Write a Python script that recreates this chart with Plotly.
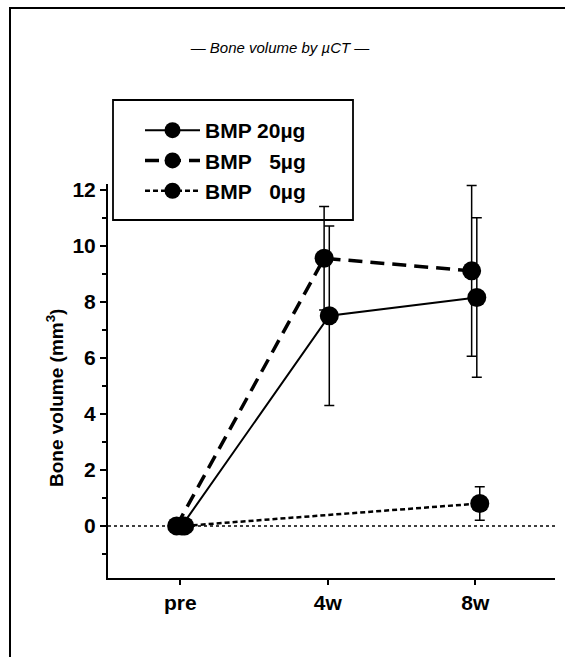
import plotly.graph_objects as go

# ---- data ----
timepoints = ["pre", "4w", "8w"]
time_index = [0, 1, 2]

bmp20_mean = [0.0, 7.5, 8.15]
bmp20_sd = [0.0, 3.2, 2.85]

bmp5_mean = [0.0, 9.55, 9.1]
bmp5_sd = [0.0, 1.85, 3.05]

bmp0_mean = [0.0, None, 0.8]
bmp0_sd = [0.0, None, 0.6]

series_names = ["BMP 20µg", "BMP\u00a0\u00a0\u00a05µg", "BMP\u00a0\u00a0\u00a00µg"]
y_tickvals = [0, 2, 4, 6, 8, 10, 12]
y_title = "Bone volume (mm<sup>3</sup>)"
chart_title = "<i>— Bone volume by µCT —</i>"

# ---- style ----
FONT = "Liberation Sans, Arial, Helvetica, sans-serif"
dodge = [0.01, -0.025, 0.03]          # small horizontal dodge per series
dashes = ["solid", "14px,8px", "5px,3px"]
widths = [2, 3.5, 2.5]

means = [bmp20_mean, bmp5_mean, bmp0_mean]
sds = [bmp20_sd, bmp5_sd, bmp0_sd]

fig = go.Figure()
for name, m, s, dx, dsh, w in zip(series_names, means, sds, dodge, dashes, widths):
    fig.add_trace(go.Scatter(
        x=[t + dx for t in time_index],
        y=m,
        name=name,
        mode="lines+markers",
        connectgaps=True,
        cliponaxis=False,
        line=dict(color="black", width=w, dash=dsh),
        marker=dict(color="black", size=19),
        error_y=dict(type="data", array=s, visible=True, color="black",
                     thickness=1.5, width=5),
    ))

# plot-area geometry helpers (pixels -> paper)
L, R, T, B = 108, 10, 184, 79
W, H = 565, 657
pw, ph = W - L - R, H - T - B
def px_x(p):
    return (p - L) / pw
def px_y(p):
    return (H - B - p) / ph

shapes = [
    # dotted zero reference line
    dict(type="line", xref="paper", x0=0, x1=1, yref="y", y0=0, y1=0,
         line=dict(color="black", width=1.5, dash="dot"), layer="below"),
    # legend box
    dict(type="rect", xref="paper", yref="paper",
         x0=px_x(113), x1=px_x(353), y0=px_y(220), y1=px_y(100),
         line=dict(color="black", width=1.8)),
    # outer frame (left + top edges)
    dict(type="path", xref="paper", yref="paper",
         path=f"M {px_x(10)},{px_y(660)} L {px_x(10)},{px_y(8)} L {px_x(570)},{px_y(8)}",
         line=dict(color="black", width=2)),
]

fig.update_layout(
    width=W, height=H,
    margin=dict(l=L, r=R, t=T, b=B),
    paper_bgcolor="white", plot_bgcolor="white",
    font=dict(family=FONT, color="black", size=20),
    title=dict(text=chart_title, x=280 / W, xref="container",
               y=1 - 48 / H, yref="container", xanchor="center", yanchor="middle",
               font=dict(size=15, family=FONT, color="black")),
    showlegend=True,
    legend=dict(x=px_x(140), xanchor="left", y=px_y(110), yanchor="top",
                bgcolor="rgba(0,0,0,0)", borderwidth=0, itemwidth=55,
                font=dict(size=21, family=FONT, color="black", weight="bold"),
                tracegroupgap=0),
    shapes=shapes,
    annotations=[dict(text=y_title, textangle=-90, xref="paper", yref="paper",
                      x=px_x(55), y=px_y(398), showarrow=False,
                      xanchor="center", yanchor="middle",
                      font=dict(size=19, family=FONT, color="black", weight="bold"))],
    xaxis=dict(range=[-0.49, 2.54], tickmode="array", tickvals=time_index,
               ticktext=timepoints, ticks="outside", ticklen=5, tickwidth=2,
               tickcolor="black", showline=True, linewidth=2, linecolor="black",
               showgrid=False, zeroline=False,
               tickfont=dict(size=21, weight="bold")),
    yaxis=dict(range=[-1.86, 12.2], tickmode="array", tickvals=y_tickvals,
               ticks="outside", ticklen=6, tickwidth=2, tickcolor="black",
               minor=dict(dtick=1, tick0=0, ticks="outside", ticklen=4,
                          tickwidth=1.5, tickcolor="black"),
               showline=True, linewidth=2, linecolor="black",
               showgrid=False, zeroline=False,
               tickfont=dict(size=21, weight="bold")),
)

fig.write_html("out.html")
